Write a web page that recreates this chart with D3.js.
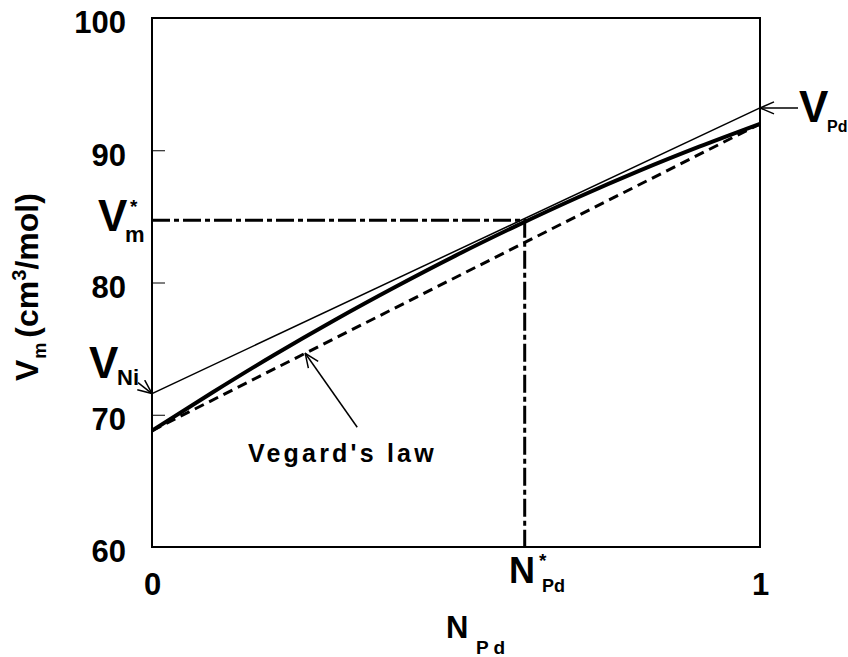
<!DOCTYPE html>
<html>
<head>
<meta charset="utf-8">
<script src="https://cdn.jsdelivr.net/npm/d3@7"></script>
<style>
  html, body { margin: 0; padding: 0; background: #fff; }
  svg text { font-family: "Liberation Sans", Arial, sans-serif; font-weight: bold; fill: #000; }
</style>
</head>
<body>
<svg id="chart" width="848" height="657"></svg>
<script>
// Mole fraction of Pd and molar volume of the Ni–Pd alloy
const nPd    = [0, 0.1, 0.2, 0.3, 0.4, 0.5, 0.6, 0.7, 0.8, 0.9, 1];
const vAlloy = [68.8, 71.7, 74.5, 77.15, 79.66, 82.05, 84.3, 86.43, 88.42, 90.27, 92.0];

// Vegard's law: straight line between the pure-metal volumes
const nVegard = [0, 1];
const vVegard = [68.8, 92.0];

// Tangent to the alloy curve at the marked composition
const nTangent = [0, 1];
const vTangent = [71.6, 93.2];

// Marked composition and its partial molar volume
const nStar = 0.613;
const vStar = 84.7;

// Axis ticks
const yTicks = [60, 70, 80, 90, 100];
const xTicks = [0, 1];

const svg = d3.select("#chart");
const plotL = 152, plotR = 760, plotT = 18, plotB = 547;

const x = d3.scaleLinear().domain([0, 1]).range([plotL, plotR]);
const y = d3.scaleLinear().domain([60, 100]).range([plotB, plotT]);

// Arrowhead (open chevron)
svg.append("defs").append("marker")
  .attr("id", "arrow")
  .attr("markerUnits", "userSpaceOnUse")
  .attr("viewBox", "0 0 16 14")
  .attr("refX", 15).attr("refY", 7)
  .attr("markerWidth", 16).attr("markerHeight", 14)
  .attr("orient", "auto")
  .append("path")
  .attr("d", "M1,1 L15,7 L1,13")
  .attr("fill", "none").attr("stroke", "#000").attr("stroke-width", 1.5);

// Y axis ticks drawn inward
const yAxis = d3.axisLeft(y).tickValues(yTicks).tickSizeInner(-13).tickSizeOuter(0).tickPadding(26);
const gy = svg.append("g").attr("transform", `translate(${plotL},0)`).call(yAxis);
gy.select(".domain").remove();
gy.selectAll(".tick line").attr("stroke", "#000").attr("stroke-width", 1);
gy.selectAll(".tick text").attr("font-size", 31).attr("dy", "0.48em")
  .attr("font-family", "Liberation Sans, Arial, sans-serif").attr("font-weight", "bold");

const xAxis = d3.axisBottom(x).tickValues(xTicks).tickSize(0).tickPadding(26).tickFormat(d3.format("d"));
const gx = svg.append("g").attr("transform", `translate(0,${plotB})`).call(xAxis);
gx.select(".domain").remove();
gx.selectAll(".tick text").attr("font-size", 31).attr("dy", "0.71em")
  .attr("font-family", "Liberation Sans, Arial, sans-serif").attr("font-weight", "bold");

// Dash-dot guide lines to the marked point
svg.append("path")
  .attr("d", d3.line()([[x(0), y(vStar)], [x(nStar), y(vStar)], [x(nStar), y(60)]]))
  .attr("fill", "none").attr("stroke", "#000").attr("stroke-width", 3)
  .attr("stroke-dasharray", "18,4,5,4");

// Vegard's law (dashed)
const lineFn = d3.line().x(d => x(d[0])).y(d => y(d[1]));
svg.append("path")
  .attr("d", lineFn(d3.zip(nVegard, vVegard)))
  .attr("fill", "none").attr("stroke", "#000").attr("stroke-width", 3)
  .attr("stroke-dasharray", "10,6");

// Tangent line
svg.append("path")
  .attr("d", lineFn(d3.zip(nTangent, vTangent)))
  .attr("fill", "none").attr("stroke", "#000").attr("stroke-width", 1.5);

// Alloy molar volume curve
svg.append("path")
  .attr("d", d3.line().x(d => x(d[0])).y(d => y(d[1])).curve(d3.curveMonotoneX)(d3.zip(nPd, vAlloy)))
  .attr("fill", "none").attr("stroke", "#000").attr("stroke-width", 4);

// Plot frame
svg.append("rect")
  .attr("x", plotL).attr("y", plotT).attr("width", plotR - plotL).attr("height", plotB - plotT)
  .attr("fill", "none").attr("stroke", "#000").attr("stroke-width", 2);

// Arrows
function arrow(x1, y1, x2, y2) {
  svg.append("line").attr("x1", x1).attr("y1", y1).attr("x2", x2).attr("y2", y2)
    .attr("stroke", "#000").attr("stroke-width", 1.5).attr("marker-end", "url(#arrow)");
}
arrow(x(0) - 14, y(vTangent[0]) - 11, x(0), y(vTangent[0]));
arrow(x(1) + 38, y(vTangent[1]), x(1), y(vTangent[1]));
const nArrow = 0.252;
const vArrow = vVegard[0] + (vVegard[1] - vVegard[0]) * nArrow;
arrow(x(nArrow) + 52, y(vArrow) + 74, x(nArrow), y(vArrow));

// Labels with sub/superscripts
function label(xp, yp, main, mainSize, sub, subSize, subDx, subDy, sup, supSize, supDx, supDy) {
  svg.append("text").attr("x", xp).attr("y", yp).attr("font-size", mainSize).text(main);
  if (sub) svg.append("text").attr("x", xp + subDx).attr("y", yp + subDy).attr("font-size", subSize).text(sub);
  if (sup) svg.append("text").attr("x", xp + supDx).attr("y", yp + supDy).attr("font-size", supSize).text(sup);
}

// V*_m at the left axis
label(98, 231, "V", 44, "m", 22, 27, 11, "*", 19, 32, -18);
// V_Ni
label(89, 378, "V", 44, "Ni", 22, 28, 7);
// V_Pd
label(799, 122, "V", 44, "Pd", 16, 28, 10);
// N*_Pd under the axis
label(509, 583, "N", 36, "Pd", 18, 33, 9, "*", 19, 30, -16);

// Vegard's law caption
svg.append("text").attr("x", 248).attr("y", 462).attr("font-size", 25)
  .attr("letter-spacing", 3.2).text("Vegard's law");

// Axis titles
label(446, 638, "N", 31, "P d", 19, 30, 16);
const yt = svg.append("text").attr("transform", "translate(38,381) rotate(-90)").attr("font-size", 32);
yt.append("tspan").text("V");
yt.append("tspan").attr("font-size", 18).attr("dy", 8).attr("dx", 1).text("m");
yt.append("tspan").attr("dy", -8).attr("dx", 5).text("(cm");
yt.append("tspan").attr("font-size", 20).attr("dy", -12).text("3");
yt.append("tspan").attr("dy", 12).text("/mol)");
</script>
</body>
</html>
